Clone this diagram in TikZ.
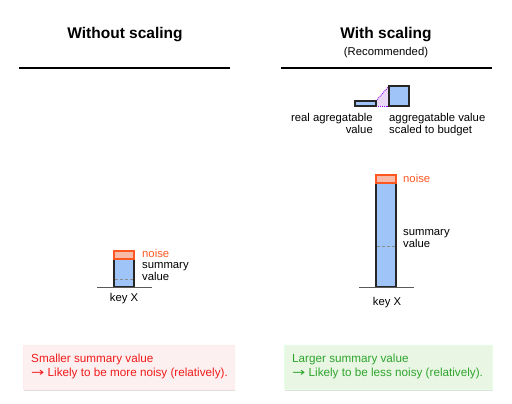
\documentclass[tikz,border=0pt]{standalone}
\usepackage{graphicx}
\usepackage{fontspec}
\setmainfont{Liberation Sans}
\newfontfamily\arrowfont{DejaVu Sans}
\definecolor{barblue}{HTML}{9FC5F8}
\definecolor{noisefill}{HTML}{F8BBAA}
\definecolor{noisered}{HTML}{FF5722}
\definecolor{lav}{HTML}{E9D8F7}
\definecolor{purp}{HTML}{9900FF}
\definecolor{pinkbg}{HTML}{FDF0F0}
\definecolor{greenbg}{HTML}{E9F6E3}
\definecolor{redtxt}{HTML}{F21A1A}
\definecolor{greentxt}{HTML}{2EA52E}
\newcommand{\myarrow}{\scalebox{1.35}[1]{\arrowfont →}}
\tikzset{
  title/.style={font=\fontsize{15.5}{18}\selectfont\bfseries, inner sep=0pt},
  lbl/.style={font=\fontsize{11.3}{12.5}\selectfont, inner sep=0pt, anchor=base west},
  noiselbl/.style={lbl, text=noisered},
  bar/.style={draw=black!85, line width=1.3pt, fill=barblue},
  noisebox/.style={draw=noisered, line width=1.2pt, fill=noisefill},
  midline/.style={draw=black!45, densely dashed, line width=0.6pt},
  base/.style={draw=black!65, line width=1pt},
  rule/.style={draw=black, line width=1.4pt},
  note/.style={font=\fontsize{11.7}{16}\selectfont, inner sep=0pt, anchor=base west}
}
\begin{document}
\begin{tikzpicture}[x=1pt,y=-1pt]
\useasboundingbox (0,0) rectangle (512,404);
% titles
\node[title] (t1) at (125,35) {Without scaling};
\node[title] (t2) at (386,35) {With scaling};
\node[inner sep=0pt, font=\fontsize{11.3}{12}\selectfont] (rec) at (386,53) {(Recommended)};
\draw[rule] (19,68) -- (230,68);
\draw[rule] (281,68) -- (492,68);

% left bar
\draw[bar] (114,259) rectangle (134,287);
\draw[midline] (115,279) -- (133,279);
\draw[noisebox] (114,251) rectangle (134,259);
\draw[base] (97,287) -- (152,287);
\node[noiselbl] (n1) at (142,257) {noise};
\node[lbl] (s1a) at (142,268.5) {summary};
\node[lbl] (s1b) at (142,280) {value};
\node[inner sep=0pt, font=\fontsize{11.3}{12.5}\selectfont] (k1) at (124,299) {key X};

% right bar
\draw[bar] (376,183) rectangle (396,287);
\draw[midline] (377,246) -- (395,246);
\draw[noisebox] (376,175) rectangle (396,183);
\draw[base] (359,287) -- (414,287);
\node[noiselbl] (n2) at (403,182.5) {noise};
\node[lbl] (s2a) at (403,235) {summary};
\node[lbl] (s2b) at (403,247) {value};
\node[inner sep=0pt, font=\fontsize{11.3}{12.5}\selectfont] (k2) at (387,303) {key X};

% scaling illustration
\fill[lav] (376,101) -- (389,86) -- (389,106) -- (376,106) -- cycle;
\draw[purp, densely dotted, line width=0.9pt] (376,101) -- (389,86);
\draw[purp, densely dotted, line width=0.9pt] (376,106) -- (389,106);
\draw[draw=black!85, line width=1.1pt, fill=barblue] (355,101) rectangle (376,106);
\draw[draw=black!85, line width=1.1pt, fill=barblue] (389,86) rectangle (409,106);
\node[inner sep=0pt, font=\fontsize{11.3}{12.5}\selectfont, align=right, anchor=north east] (ra) at (373,113) {real agregatable\\value};
\node[inner sep=0pt, font=\fontsize{11.3}{12.5}\selectfont, align=left, anchor=north west] (sa) at (389,113) {aggregatable value\\scaled to budget};

% bottom notes
\fill[black!12] (24,346) rectangle (235,391);
\fill[black!12] (285,346) rectangle (493,391);
\draw[fill=pinkbg, draw=red!8] (23,345) rectangle (234,389);
\draw[fill=greenbg, draw=green!10] (284,345) rectangle (492,389);
\node[note, text=redtxt] (nl1) at (31,362) {Smaller summary value};
\node[note, text=redtxt] (nl2) at (31,376) {\myarrow\ Likely to be more noisy (relatively).};
\node[note, text=greentxt] (nr1) at (292,362) {Larger summary value};
\node[note, text=greentxt] (nr2) at (292,376) {\myarrow\ Likely to be less noisy (relatively).};
\end{tikzpicture}
\end{document}
